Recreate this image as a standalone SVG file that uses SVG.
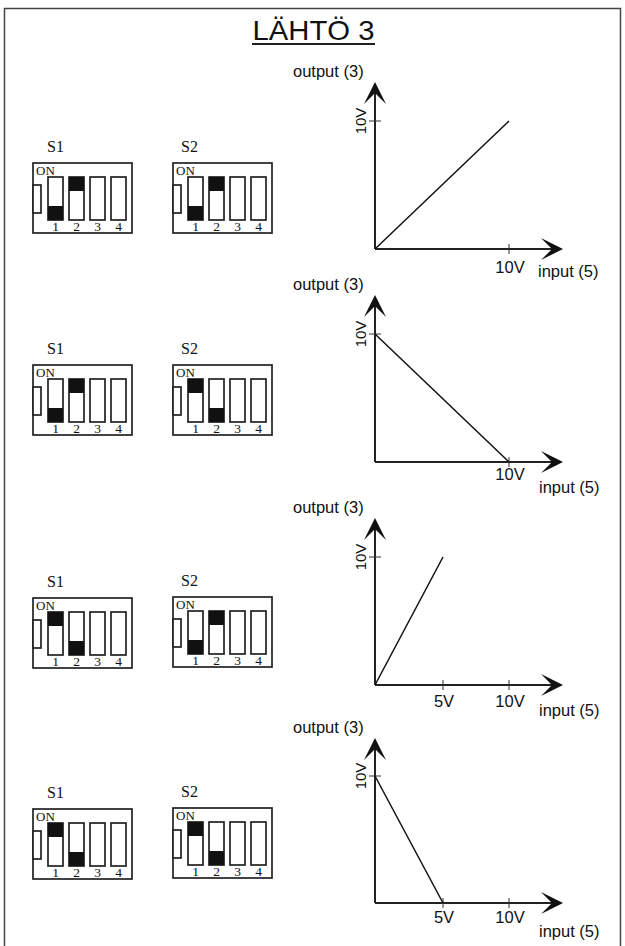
<svg xmlns="http://www.w3.org/2000/svg" width="625" height="946" viewBox="0 0 625 946">
<defs>
<style>
.frame{fill:none;stroke:#444;stroke-width:1.5}
.title{font-family:"Liberation Sans",Arial,sans-serif;font-size:28px;fill:#111}
.lbl{font-family:"Liberation Sans",Arial,sans-serif;font-size:16.5px;fill:#111}
.vl{font-family:"Liberation Sans",Arial,sans-serif;font-size:15px;fill:#111}
.axis{stroke:#222;stroke-width:2;fill:none}
.tick{stroke:#333;stroke-width:1;fill:none}
.data{stroke:#111;stroke-width:1.5;fill:none}
.arr{fill:#111}
.box{fill:#fff;stroke:#222;stroke-width:1.7}
.sw{fill:#fff;stroke:#222;stroke-width:1.7}
.blk{fill:#111}
.serif{font-family:"Liberation Serif","Times New Roman",serif;fill:#111}
.sl{font-size:16px}
.on{font-size:13px}
.num{font-size:13.5px;text-anchor:middle}
</style>
<path id="arr" d="M0,0 L-22,-11 L-11,0 L-22,11 Z"/>
<g id="dipbase">
<rect class="box" x="0" y="0" width="99" height="70"/>
<rect class="box" x="0" y="22" width="8" height="28"/>
<rect class="sw" x="15" y="14" width="15" height="43"/>
<rect class="sw" x="36" y="14" width="15" height="43"/>
<rect class="sw" x="57" y="14" width="15" height="43"/>
<rect class="sw" x="78" y="14" width="15" height="43"/>
<text class="serif on" x="3" y="12">ON</text>
<text class="serif num" x="22.5" y="67.5">1</text>
<text class="serif num" x="43.5" y="67.5">2</text>
<text class="serif num" x="64.5" y="67.5">3</text>
<text class="serif num" x="85.5" y="67.5">4</text>
</g>
</defs>
<rect width="625" height="946" fill="#fff"/>
<rect class="frame" x="4.5" y="8.5" width="616" height="942"/>
<g id="title">
<text class="title" x="313.5" y="40" text-anchor="middle" textLength="122" lengthAdjust="spacingAndGlyphs">LÄHTÖ 3</text>
<line x1="252" y1="44" x2="375" y2="44" stroke="#222" stroke-width="2"/>
</g>

<!-- Row 1 -->
<g id="row1-s1" transform="translate(33,163)">
<use href="#dipbase"/>
<rect class="blk" x="15" y="43" width="15" height="14"/>
<rect class="blk" x="36" y="14" width="15" height="14"/>
<text class="serif sl" x="14" y="-11">S1</text>
</g>
<g id="row1-s2" transform="translate(173,163)">
<use href="#dipbase"/>
<rect class="blk" x="15" y="43" width="15" height="14"/>
<rect class="blk" x="36" y="14" width="15" height="14"/>
<text class="serif sl" x="8" y="-11">S2</text>
</g>
<g id="graph1">
<line class="axis" x1="375" y1="249" x2="375" y2="88"/>
<line class="axis" x1="375" y1="249" x2="556" y2="249"/>
<use href="#arr" class="arr" transform="translate(375,82) rotate(-90)"/>
<use href="#arr" class="arr" transform="translate(563,249)"/>
<line class="tick" x1="369" y1="121" x2="381" y2="121"/>
<line class="tick" x1="509" y1="244" x2="509" y2="254"/>
<line class="data" x1="375" y1="249" x2="509" y2="121"/>
<text class="lbl" x="293" y="77">output (3)</text>
<text class="vl" transform="translate(366,121) rotate(-90)" text-anchor="middle">10V</text>
<text class="lbl" x="510" y="273" text-anchor="middle">10V</text>
<text class="lbl" x="538" y="277">input (5)</text>
</g>

<!-- Row 2 -->
<g id="row2-s1" transform="translate(33,365)">
<use href="#dipbase"/>
<rect class="blk" x="15" y="43" width="15" height="14"/>
<rect class="blk" x="36" y="14" width="15" height="14"/>
<text class="serif sl" x="14" y="-11">S1</text>
</g>
<g id="row2-s2" transform="translate(173,365)">
<use href="#dipbase"/>
<rect class="blk" x="15" y="14" width="15" height="14"/>
<rect class="blk" x="36" y="43" width="15" height="14"/>
<text class="serif sl" x="8" y="-11">S2</text>
</g>
<g id="graph2">
<line class="axis" x1="375" y1="462" x2="375" y2="301"/>
<line class="axis" x1="375" y1="462" x2="556" y2="462"/>
<use href="#arr" class="arr" transform="translate(375,295) rotate(-90)"/>
<use href="#arr" class="arr" transform="translate(563,462)"/>
<line class="tick" x1="369" y1="334" x2="381" y2="334"/>
<line class="tick" x1="509" y1="457" x2="509" y2="467"/>
<line class="data" x1="375" y1="334" x2="509" y2="462"/>
<text class="lbl" x="293" y="290">output (3)</text>
<text class="vl" transform="translate(366,334) rotate(-90)" text-anchor="middle">10V</text>
<text class="lbl" x="510" y="480" text-anchor="middle">10V</text>
<text class="lbl" x="539" y="493">input (5)</text>
</g>

<!-- Row 3 -->
<g id="row3-s1" transform="translate(33,598)">
<use href="#dipbase"/>
<rect class="blk" x="15" y="14" width="15" height="14"/>
<rect class="blk" x="36" y="43" width="15" height="14"/>
<text class="serif sl" x="14" y="-11">S1</text>
</g>
<g id="row3-s2" transform="translate(173,597)">
<use href="#dipbase"/>
<rect class="blk" x="15" y="43" width="15" height="14"/>
<rect class="blk" x="36" y="14" width="15" height="14"/>
<text class="serif sl" x="8" y="-11">S2</text>
</g>
<g id="graph3">
<line class="axis" x1="375" y1="685" x2="375" y2="524"/>
<line class="axis" x1="375" y1="685" x2="556" y2="685"/>
<use href="#arr" class="arr" transform="translate(375,518) rotate(-90)"/>
<use href="#arr" class="arr" transform="translate(563,685)"/>
<line class="tick" x1="369" y1="557" x2="381" y2="557"/>
<line class="tick" x1="443" y1="680" x2="443" y2="690"/>
<line class="tick" x1="509" y1="680" x2="509" y2="690"/>
<line class="data" x1="375" y1="685" x2="443" y2="557"/>
<text class="lbl" x="293" y="513">output (3)</text>
<text class="vl" transform="translate(366,557) rotate(-90)" text-anchor="middle">10V</text>
<text class="lbl" x="444" y="707" text-anchor="middle">5V</text>
<text class="lbl" x="510" y="707" text-anchor="middle">10V</text>
<text class="lbl" x="539" y="716">input (5)</text>
</g>

<!-- Row 4 -->
<g id="row4-s1" transform="translate(33,809)">
<use href="#dipbase"/>
<rect class="blk" x="15" y="14" width="15" height="14"/>
<rect class="blk" x="36" y="43" width="15" height="14"/>
<text class="serif sl" x="14" y="-11">S1</text>
</g>
<g id="row4-s2" transform="translate(173,808)">
<use href="#dipbase"/>
<rect class="blk" x="15" y="14" width="15" height="14"/>
<rect class="blk" x="36" y="43" width="15" height="14"/>
<text class="serif sl" x="8" y="-11">S2</text>
</g>
<g id="graph4">
<line class="axis" x1="375" y1="903" x2="375" y2="744"/>
<line class="axis" x1="375" y1="903" x2="556" y2="903"/>
<use href="#arr" class="arr" transform="translate(375,738) rotate(-90)"/>
<use href="#arr" class="arr" transform="translate(563,903)"/>
<line class="tick" x1="369" y1="776" x2="381" y2="776"/>
<line class="tick" x1="443" y1="898" x2="443" y2="908"/>
<line class="tick" x1="509" y1="898" x2="509" y2="908"/>
<line class="data" x1="375" y1="776" x2="443" y2="903"/>
<text class="lbl" x="293" y="733">output (3)</text>
<text class="vl" transform="translate(366,776) rotate(-90)" text-anchor="middle">10V</text>
<text class="lbl" x="444" y="923" text-anchor="middle">5V</text>
<text class="lbl" x="510" y="923" text-anchor="middle">10V</text>
<text class="lbl" x="539" y="937">input (5)</text>
</g>
</svg>
